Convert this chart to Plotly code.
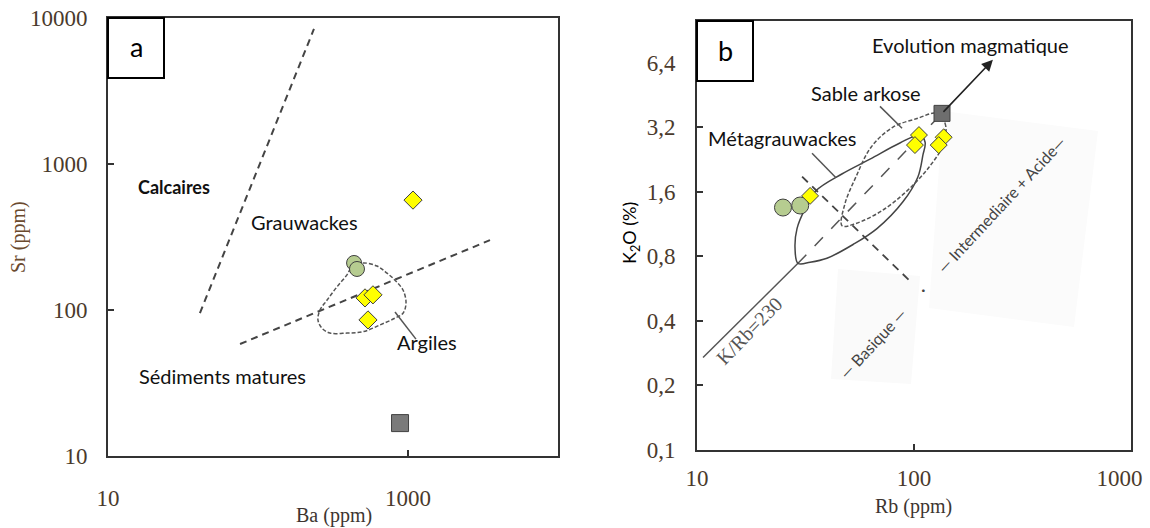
import math
import plotly.graph_objects as go

W, H = 1150, 528

# ---------------- Panel a : Ba vs Sr ----------------
ba_diamond = [1080, 517, 584, 541]
sr_diamond = [566, 121, 127, 85.5]
ba_circle = [437, 457]
sr_circle = [210, 191]
ba_square = [885]
sr_square = [16.8]

limit1_ba = [41, 236]
limit1_sr = [95.3, 8410]
limit2_ba = [75.9, 3521]
limit2_sr = [58.5, 301]

argiles_ba = [423, 501, 621, 724, 819, 926, 970, 926, 819, 651, 501, 392, 302, 267, 251, 259, 289, 336, 392, 423]
argiles_sr = [197, 210, 200, 179, 160, 137, 112, 95, 88, 79, 71, 69.5, 69.5, 75, 85.5, 100, 117, 144, 174, 197]
argiles_lead_ba = [819, 1130]
argiles_lead_sr = [96.8, 63.2]

a_xticks = [10, 1000]
a_xticktext = ["10", "1000"]
a_yticks = [10, 100, 1000, 10000]
a_yticktext = ["10", "100", "1000", "10000"]

# ---------------- Panel b : Rb vs K2O ----------------
rb_circle = [24.9, 29.9]
k2o_circle = [1.35, 1.38]
rb_diamond = [33.2, 105.4, 101, 137, 130]
k2o_diamond = [1.53, 2.94, 2.64, 2.87, 2.64]
rb_square = [134.6]
k2o_square = [3.71]

meta_rb = [29.2, 28.3, 28.9, 31.5, 35.3, 46.5, 62.7, 86.1, 106.6, 112.5, 109.9, 104.2, 88.9, 67.5, 52.4, 39.7, 33.2, 29.2]
meta_k2o = [0.742, 0.871, 1.077, 1.334, 1.615, 1.935, 2.27, 2.70, 2.94, 2.72, 2.37, 1.875, 1.436, 1.077, 0.908, 0.783, 0.750, 0.742]

arkose_rb = [126.2, 139, 137.5, 117.2, 92.9, 71.3, 54.0, 46.6, 48.1, 54.0, 63.4, 80.0, 104.2, 126.2]
arkose_k2o = [3.71, 3.34, 2.70, 2.08, 1.615, 1.306, 1.138, 1.11, 1.41, 1.875, 2.58, 3.20, 3.52, 3.71]

krb_solid_rb = [10.66, 29.2]
krb_solid_k2o = [0.27, 0.742]
krb_dash_rb = [29.2, 134.6]
krb_dash_k2o = [0.742, 3.71]
evol_rb = [134.6, 231]
evol_k2o = [3.71, 6.59]

perp_rb = [30.5, 94.8]
perp_k2o = [1.88, 0.62]

arkose_lead_rb = [69.7, 88.1]
arkose_lead_k2o = [4.0, 3.16]
meta_lead_rb = [33.9, 43.7]
meta_lead_k2o = [2.42, 1.86]

NBSP = "\u00a0"
b_xticks = [10, 100, 1000]
b_xticktext = ["10", "100", "1000" + NBSP * 4]
b_yticks = [0.1, 0.2, 0.4, 0.8, 1.6, 3.2, 6.4]
b_yticktext = ["0,1", "0,2", "0,4", "0,8", "1,6", "3,2", "6,4"]

# ---------------- styles ----------------
YELLOW = "#ffff00"
GREEN = "#b6cc90"
GREY_SQ = "#7a7a7a"
EDGE = "#404040"
TICKFONT = dict(family="Liberation Serif", size=23, color="#4a3a2c")
LABELFONT = dict(family="Lato", size=20, color="#111111")


def px(x):
    return x / W


def py(y):
    return 1 - y / H


fig = go.Figure()


def line(x, y, xa, ya, color="#444", width=1.5, dash="solid", shape="linear"):
    fig.add_trace(go.Scatter(x=x, y=y, xaxis=xa, yaxis=ya, mode="lines",
                             line=dict(color=color, width=width, dash=dash, shape=shape),
                             hoverinfo="skip", showlegend=False))


def pts(x, y, xa, ya, symbol, color, size):
    fig.add_trace(go.Scatter(x=x, y=y, xaxis=xa, yaxis=ya, mode="markers",
                             marker=dict(symbol=symbol, color=color, size=size,
                                         line=dict(color=EDGE, width=1)),
                             showlegend=False))


# panel a lines
line(limit1_ba, limit1_sr, "x", "y", color="#444", width=2, dash="7px,5px")
line(limit2_ba, limit2_sr, "x", "y", color="#444", width=2, dash="7px,5px")
line(argiles_ba, argiles_sr, "x", "y", color="#555", width=1.5, dash="4px,2px", shape="spline")
line(argiles_lead_ba, argiles_lead_sr, "x", "y", color="#555", width=1.5)
# panel a points
pts(ba_circle, sr_circle, "x", "y", "circle", GREEN, 15)
pts(ba_diamond, sr_diamond, "x", "y", "diamond", YELLOW, 14)
pts(ba_square, sr_square, "x", "y", "square", GREY_SQ, 17)

# panel b lines
line(krb_solid_rb, krb_solid_k2o, "x2", "y2", color="#555", width=1.5)
line(krb_dash_rb, krb_dash_k2o, "x2", "y2", color="#555", width=1.5, dash="12px,12px")
line(perp_rb, perp_k2o, "x2", "y2", color="#444", width=1.8, dash="8px,6px")
line(meta_rb, meta_k2o, "x2", "y2", color="#444", width=1.5, shape="spline")
line(arkose_rb, arkose_k2o, "x2", "y2", color="#555", width=1.5, dash="4px,2px", shape="spline")
line(arkose_lead_rb, arkose_lead_k2o, "x2", "y2", color="#555", width=1.5)
line(meta_lead_rb, meta_lead_k2o, "x2", "y2", color="#555", width=1.5)
# panel b points
pts(rb_circle, k2o_circle, "x2", "y2", "circle", GREEN, 17)
pts(rb_diamond, k2o_diamond, "x2", "y2", "diamond", YELLOW, 13)
pts(rb_square, k2o_square, "x2", "y2", "square", "#6e6e6e", 16)

axis_common = dict(type="log", showgrid=False, zeroline=False, showline=True, mirror=True,
                   linewidth=2, linecolor="#333", ticks="inside", ticklen=6, tickwidth=1.5,
                   tickcolor="#333", tickfont=TICKFONT, automargin=False,
                   ticklabeloverflow="allow")

fig.update_layout(
    template="none",
    width=W, height=H, margin=dict(l=0, r=0, t=0, b=0, pad=0, autoexpand=False),
    paper_bgcolor="white", plot_bgcolor="white", showlegend=False,
    xaxis=dict(axis_common, domain=[px(108), px(558)], range=[1, 4], anchor="y",
               tickvals=a_xticks, ticktext=a_xticktext, ticklabelstandoff=20),
    yaxis=dict(axis_common, domain=[py(456), py(18)], range=[1, 4], anchor="x",
               tickvals=a_yticks, ticktext=a_yticktext, ticklabelstandoff=14),
    xaxis2=dict(axis_common, domain=[px(697), px(1131)], range=[1, 3], anchor="y2",
                tickvals=b_xticks, ticktext=b_xticktext, ticklabelstandoff=6),
    yaxis2=dict(axis_common, domain=[py(450), py(21)], range=[-1, 1], anchor="x2",
                tickvals=b_yticks, ticktext=b_yticktext, ticklabelstandoff=15),
)

# faint scanned background patches behind the magmatic-domain labels
fig.add_shape(type="path", xref="paper", yref="paper", layer="below", line=dict(width=0),
              fillcolor="#fafafa",
              path="M {} {} L {} {} L {} {} L {} {} Z".format(px(838), py(269), px(920), py(276),
                                                              px(911), py(384), px(831), py(379)))
fig.add_shape(type="path", xref="paper", yref="paper", layer="below", line=dict(width=0),
              fillcolor="#fbfbfb",
              path="M {} {} L {} {} L {} {} L {} {} Z".format(px(943), py(111), px(1098), py(131),
                                                              px(1074), py(327), px(929), py(308)))

# panel boxes "a" / "b"
fig.add_shape(type="rect", xref="x domain", yref="y domain", x0=0, x1=56 / 450, y0=1 - 60 / 438, y1=1,
              line=dict(color="black", width=2), fillcolor="white")
fig.add_shape(type="rect", xref="x2 domain", yref="y2 domain", x0=0, x1=56 / 434, y0=1 - 60 / 429, y1=1,
              line=dict(color="black", width=2), fillcolor="white")

ann = []


def text(t, x, y, font=None, angle=0, xanchor="center"):
    ann.append(dict(text=t, x=px(x), y=py(y), xref="paper", yref="paper", showarrow=False,
                    textangle=angle, xanchor=xanchor, yanchor="middle",
                    font=font or LABELFONT))


text("a", 136, 47, dict(family="Lato", size=27, color="black"))
text("b", 725, 50, dict(family="Lato", size=27, color="black"))
text("<b>Calcaires</b>", 136, 187, dict(family="Lato", size=18, color="#111"), xanchor="left")
text("Grauwackes", 304, 222)
text("Sédiments matures", 137, 376, xanchor="left")
text("Argiles", 427, 342)
text("Evolution magmatique", 970, 45)
text("Sable arkose", 866, 93)
text("Métagrauwackes", 782, 138)
text("K/Rb=230", 749, 331, dict(family="Liberation Serif", size=20, color="#555"), angle=-46)
text("— Basique —", 872, 343, dict(family="Lato", size=16, color="#444"), angle=-47)
text("·", 923, 289, dict(family="Lato", size=18, color="#444"))
text("— Intermediaire + Acide—", 1001, 205, dict(family="Lato", size=16, color="#444"), angle=-47)

# axis titles
text("Sr (ppm)", 18, 237, dict(family="Liberation Serif", size=20, color="#6b4a2e"), angle=-90)
text("Ba (ppm)", 334, 515, dict(family="Liberation Serif", size=20, color="#3d3530"))
text("K<sub>2</sub>O (%)", 630, 233, dict(family="Lato", size=18, color="black"), angle=-90)
text("Rb (ppm)", 913, 506, dict(family="Liberation Serif", size=20, color="#3d3530"))

# magmatic evolution arrow
ann.append(dict(x=math.log10(evol_rb[1]), y=math.log10(evol_k2o[1]),
                ax=math.log10(evol_rb[0]), ay=math.log10(evol_k2o[0]),
                xref="x2", yref="y2", axref="x2", ayref="y2", text="", showarrow=True,
                arrowhead=2, arrowsize=1.4, arrowwidth=1.6, arrowcolor="#222"))

fig.update_layout(annotations=ann)
fig.write_html("out.html", config={"displayModeBar": False},
               post_script="document.body.style.margin='0';document.body.style.overflow='hidden';")
